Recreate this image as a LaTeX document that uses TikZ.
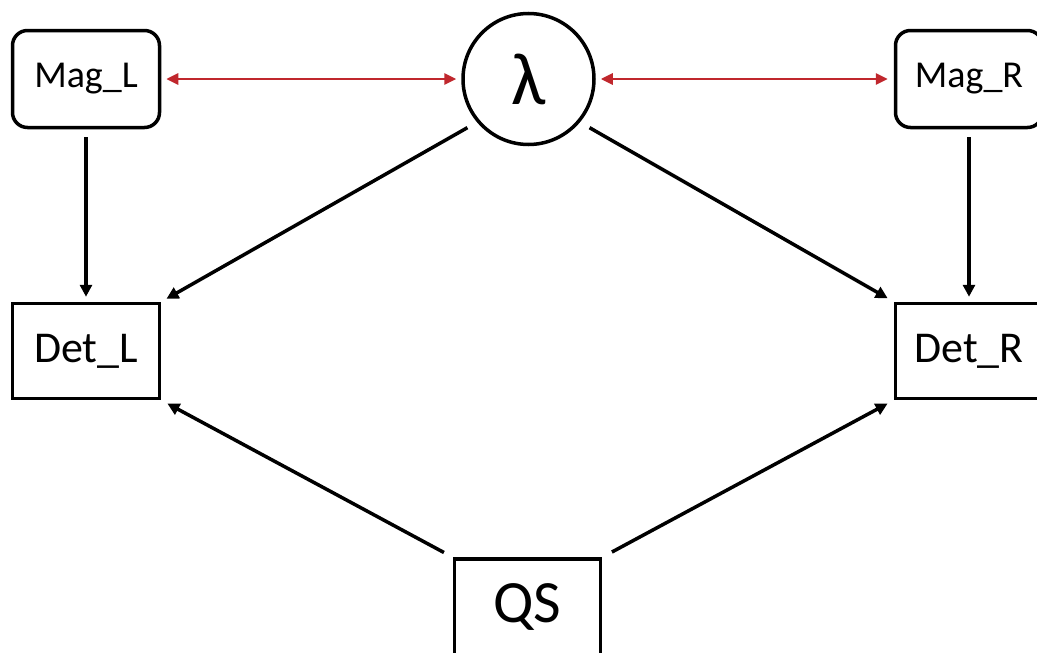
\documentclass[tikz,border=0pt]{standalone}
\usepackage{fontspec}
\setmainfont{Carlito}
\usetikzlibrary{arrows.meta}
\definecolor{linkred}{RGB}{192,39,45}
\tikzset{
  magbox/.style={draw=black, line width=3.5pt, rounded corners=15pt, minimum width=147pt, minimum height=97pt, inner sep=0pt, font=\fontsize{38}{42}\selectfont},
  detbox/.style={draw=black, line width=3.5pt, minimum width=147pt, minimum height=95pt, inner sep=0pt, font=\fontsize{44}{48}\selectfont},
  qsbox/.style={draw=black, line width=3.5pt, minimum width=146pt, minimum height=96pt, inner sep=0pt, font=\fontsize{60}{64}\selectfont},
  lamnode/.style={draw=black, line width=3.5pt, circle, minimum size=131pt, inner sep=0pt, font=\fontsize{74}{78}\selectfont},
  blackarrow/.style={draw=black, line width=3.5pt, -{Triangle[length=12pt,width=12pt]}},
  redarrow/.style={draw=linkred, line width=2.8pt, {Triangle[length=12pt,width=11pt]}-{Triangle[length=12pt,width=11pt]}}
}
\begin{document}
\begin{tikzpicture}[x=1pt,y=-1pt]
\useasboundingbox (0,0) rectangle (1037,653);
\clip (0,0) rectangle (1037,653);
\fill[white] (0,0) rectangle (1037,653);
\node[magbox] (magL) at (86,79) {Mag\_L};
\node[magbox] (magR) at (969,79) {Mag\_R};
\node[lamnode] (lam) at (528.5,79) {λ};
\node[detbox] (detL) at (86,351) {Det\_L};
\node[detbox] (detR) at (969,351) {Det\_R};
\node[qsbox] (qs) at (527.5,607) {QS};
\draw[redarrow, shorten <=5pt, shorten >=5pt] (magL.east) -- (lam.west);
\draw[redarrow, shorten <=5pt, shorten >=6pt] (lam.east) -- (magR.west);
\draw[blackarrow, shorten <=8pt, shorten >=5pt] (magL.south) -- (detL.north);
\draw[blackarrow, shorten <=8pt, shorten >=5pt] (magR.south) -- (detR.north);
\draw[blackarrow, shorten <=11pt, shorten >=6pt] (lam.220) -- (detL.north east);
\draw[blackarrow, shorten <=11pt, shorten >=7pt] (lam.320) -- (detR.north west);
\draw[blackarrow, shorten <=10pt, shorten >=7pt] (qs.north west) -- (detL.south east);
\draw[blackarrow, shorten <=11pt, shorten >=7pt] (qs.north east) -- (detR.south west);
\end{tikzpicture}
\end{document}
